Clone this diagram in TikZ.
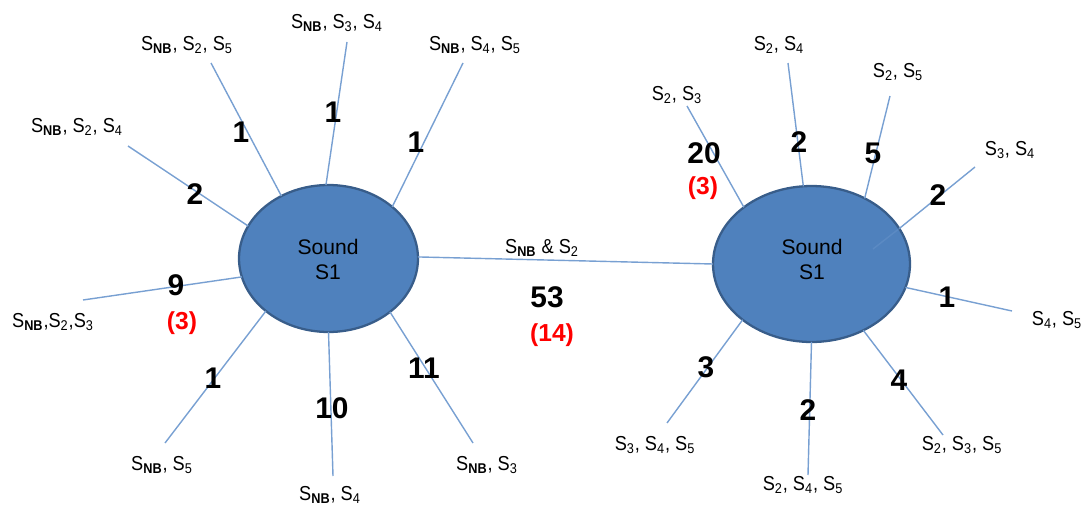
\documentclass[tikz,border=0pt]{standalone}
\usepackage{fontspec}
\setmainfont{Liberation Sans}
\newfontfamily\narrowsans{Liberation Sans}[FakeStretch=0.9]
\usetikzlibrary{shapes.geometric}
\definecolor{lineblue}{RGB}{120,160,210}
\definecolor{fillblue}{RGB}{79,129,189}
\definecolor{edgeblue}{RGB}{56,93,138}
\definecolor{redtxt}{RGB}{255,0,0}
\newcommand{\snb}{S\textsubscript{\textbf{NB}}}
\newcommand{\sx}[1]{S\textsubscript{#1}}
\tikzset{
  lbl/.style={font=\narrowsans\fontsize{11.5}{13}\selectfont, inner sep=0},
  num/.style={font=\fontsize{17}{19}\selectfont\bfseries, inner sep=0},
  rnum/.style={font=\fontsize{14}{16}\selectfont\bfseries, text=redtxt, inner sep=0},
  conn/.style={draw=lineblue, line width=0.8pt},
  sound/.style={ellipse, draw=edgeblue, fill=fillblue, line width=1.3pt, inner sep=0, outer sep=0},
  soundtxt/.style={font=\fontsize{12}{14}\selectfont, align=center, inner sep=0}
}
\begin{document}
\begin{tikzpicture}[x=0.02cm,y=-0.02cm]
\useasboundingbox (0,0) rectangle (1085,507);
% ellipses
\node[sound, minimum width=3.58cm, minimum height=2.94cm] (L) at (328.5,258.5) {};
\node[sound, minimum width=3.94cm, minimum height=3.12cm] (R) at (811.5,264) {};
\node[soundtxt] (Lt) at (328,259.5) {Sound\\S1};
\node[soundtxt] (Rt) at (812,259.5) {Sound\\S1};
% free ends, left
\coordinate (a1) at (128,146);
\coordinate (a2) at (211,63);
\coordinate (a3) at (347,42);
\coordinate (a4) at (463,63);
\coordinate (a5) at (83,300);
\coordinate (a6) at (165,443);
\coordinate (a7) at (333,476);
\coordinate (a8) at (473,443);
% free ends, right
\coordinate (b1) at (687,106);
\coordinate (b2) at (788,63);
\coordinate (b3) at (890,96);
\coordinate (b4) at (975,167);
\coordinate (b5) at (1012,311);
\coordinate (b6) at (943,435);
\coordinate (b7) at (808,475);
\coordinate (b8) at (667,423);
\coordinate (bin) at (873,249);
% connectors
\draw[conn] (L.158.9) -- (a1);
\draw[conn] (L.127.4) -- (a2);
\draw[conn] (L.92.7) -- (a3);
\draw[conn] (L.39.1) -- (a4);
\draw[conn] (L.192.9) -- (a5);
\draw[conn] (L.220.6) -- (a6);
\draw[conn] (L.270.4) -- (a7);
\draw[conn] (L.319.8) -- (a8);
\draw[conn] (L.1) -- (R.180);
\draw[conn] (R.140.6) -- (b1);
\draw[conn] (R.96.2) -- (b2);
\draw[conn] (R.51.4) -- (b3);
\draw[conn] (R.22.7) -- (b4);
\draw[conn] (R.346.6) -- (b5);
\draw[conn] (R.308.2) -- (b6);
\draw[conn] (R.270.4) -- (b7);
\draw[conn] (R.219.8) -- (b8);
\draw[conn, opacity=0.3] (R.22.7) -- (bin);
% left labels
\node[lbl] (t1) at (77,127) {\snb, \sx{2}, \sx{4}};
\node[lbl] (t2) at (187,45) {\snb, \sx{2}, \sx{5}};
\node[lbl] (t3) at (337,23) {\snb, \sx{3}, \sx{4}};
\node[lbl] (t4) at (475,45) {\snb, \sx{4}, \sx{5}};
\node[lbl] (t5) at (53,322) {\snb,\sx{2},\sx{3}};
\node[lbl] (t6) at (162,465) {\snb, \sx{5}};
\node[lbl] (t7) at (330,495) {\snb, \sx{4}};
\node[lbl] (t8) at (487,465) {\snb, \sx{3}};
% right labels
\node[lbl] (u1) at (677,95) {\sx{2}, \sx{3}};
\node[lbl] (u2) at (779,45) {\sx{2}, \sx{4}};
\node[lbl] (u3) at (898,72) {\sx{2}, \sx{5}};
\node[lbl] (u4) at (1010,150) {\sx{3}, \sx{4}};
\node[lbl] (u5) at (1057,320) {\sx{4}, \sx{5}};
\node[lbl] (u6) at (962,445) {\sx{2}, \sx{3}, \sx{5}};
\node[lbl] (u7) at (803,485) {\sx{2}, \sx{4}, \sx{5}};
\node[lbl] (u8) at (655,445) {\sx{3}, \sx{4}, \sx{5}};
% middle
\node[lbl] (m1) at (542,248) {\snb{} \& \sx{2}};
\node[num] (m2) at (547,297) {53};
\node[rnum] (m3) at (552,335) {(14)};
% left numbers
\node[num] (n1) at (195,194) {2};
\node[num] (n2) at (241,132) {1};
\node[num] (n3) at (333,112) {1};
\node[num] (n4) at (416,142) {1};
\node[num] (n5) at (176,285) {9};
\node[rnum] (n5r) at (182,323) {(3)};
\node[num] (n6) at (213,378) {1};
\node[num] (n7) at (332,408) {10};
\node[num] (n8) at (424,368) {11};
% right numbers
\node[num] (k1) at (704,153) {20};
\node[rnum] (k1r) at (703,188) {(3)};
\node[num] (k2) at (799,142) {2};
\node[num] (k3) at (873,153) {5};
\node[num] (k4) at (938,195) {2};
\node[num] (k5) at (947,297) {1};
\node[num] (k6) at (899,380) {4};
\node[num] (k7) at (808,410) {2};
\node[num] (k8) at (706,367) {3};
\end{tikzpicture}
\end{document}
